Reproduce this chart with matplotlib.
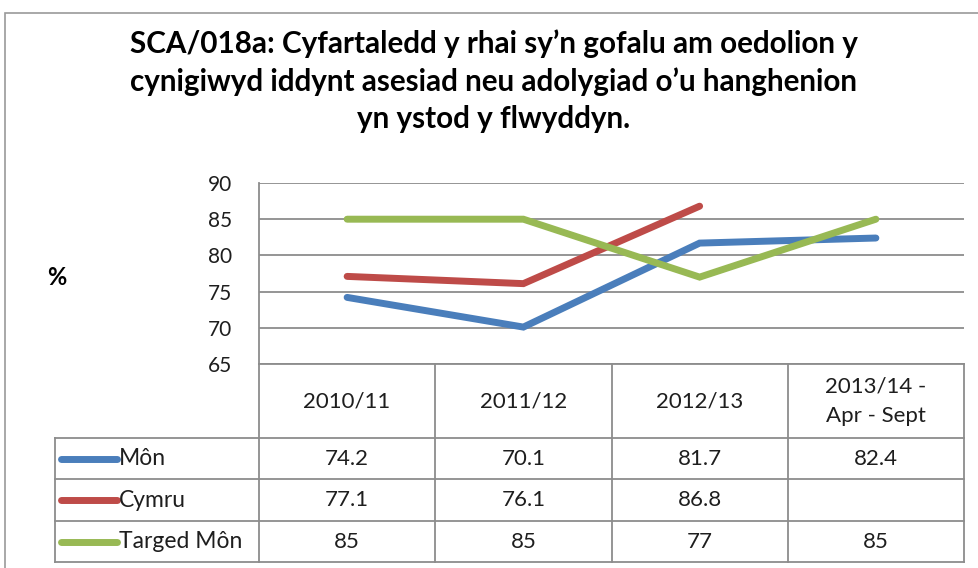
import matplotlib
matplotlib.use('Agg')
import matplotlib.pyplot as plt
import numpy as np
from matplotlib.patches import Rectangle

plt.rcParams['font.family'] = ['Lato', 'DejaVu Sans']
plt.rcParams['text.color'] = '#1e1e1e'
plt.rcParams['ytick.color'] = '#1e1e1e'

# data
categories = ['2010/11', '2011/12', '2012/13', '2013/14 -\nApr - Sept']
series_names = ['Môn', 'Cymru', 'Targed Môn']
mon = [74.2, 70.1, 81.7, 82.4]
cymru = [77.1, 76.1, 86.8, np.nan]
targed = [85, 85, 77, 85]
colors = ['#4A7EBB', '#BE4B48', '#98B954']
title = ("SCA/018a: Cyfartaledd y rhai sy\u2019n gofalu am oedolion y\n"
         "cynigiwyd iddynt asesiad neu adolygiad o\u2019u hanghenion\n"
         "yn ystod y flwyddyn.")

W, H = 979, 568
grid_c = '#8C8C8C'
fig = plt.figure(figsize=(W / 100, H / 100), dpi=100)


def fx(px):
    return px / W


def fy(py):
    return 1 - py / H


# outer chart border
fig.patches.append(Rectangle((fx(5), fy(600)), fx(1000), fy(13) - fy(600),
                             transform=fig.transFigure, fill=False,
                             edgecolor='#9A9A9A', lw=1.2))

fig.text(fx(494), fy(81), title, ha='center', va='center', fontsize=21.3,
         fontweight='bold', linespacing=1.38, color='black')
fig.text(fx(57), fy(277), '%', ha='center', va='center', fontsize=17,
         fontweight='bold', color='black')

# plot area
ax = fig.add_axes([fx(259), fy(364), fx(964 - 259), fy(183) - fy(364)])
x = np.arange(len(categories))
all_series = [mon, cymru, targed]
for vals, c in zip(all_series, colors):
    ax.plot(x, vals, color=c, lw=5, solid_capstyle='round',
            solid_joinstyle='miter')
ax.set_xlim(-0.5, len(categories) - 0.5)
ax.set_ylim(65, 90)
ax.set_yticks(np.arange(65, 91, 5))
ax.yaxis.grid(True, color=grid_c, lw=1.3)
ax.set_axisbelow(True)
ax.set_xticks([])
ax.tick_params(axis='y', length=0, labelsize=15, pad=19)
for s in ['top', 'right', 'bottom']:
    ax.spines[s].set_visible(False)
ax.spines['left'].set_color(grid_c)
ax.spines['left'].set_linewidth(1.3)

# data table
tx = fig.add_axes([fx(55), fy(564), fx(964 - 55), fy(364) - fy(564)])
tx.set_xlim(55, 964)
tx.set_ylim(564, 364)
tx.axis('off')
col_edges = np.linspace(259, 964, len(categories) + 1)
row_edges = [364, 438, 479, 521, 562]
for cx in col_edges:
    tx.plot([cx, cx], [364, 562], color=grid_c, lw=1.3, clip_on=False)
tx.plot([55, 55], [438, 562], color=grid_c, lw=1.3, clip_on=False)
tx.plot([259, 964], [364, 364], color=grid_c, lw=1.3, clip_on=False)
for ry in row_edges[1:]:
    tx.plot([55, 964], [ry, ry], color=grid_c, lw=1.3, clip_on=False)

centers = (col_edges[:-1] + col_edges[1:]) / 2
for cx, cat in zip(centers, categories):
    tx.text(cx, (364 + 438) / 2, cat, ha='center', va='center',
            fontsize=16, linespacing=1.6)

for i, (name, vals, c) in enumerate(zip(series_names, all_series, colors)):
    cy = (row_edges[i + 1] + row_edges[i + 2]) / 2
    tx.plot([61, 117], [cy, cy], color=c, lw=5, solid_capstyle='round')
    tx.text(119, cy, name, ha='left', va='center', fontsize=16.5)
    for cx, v in zip(centers, vals):
        if np.isnan(v):
            continue
        tx.text(cx, cy, f'{v:g}', ha='center', va='center', fontsize=16)

fig.savefig('out.png', dpi=100)
